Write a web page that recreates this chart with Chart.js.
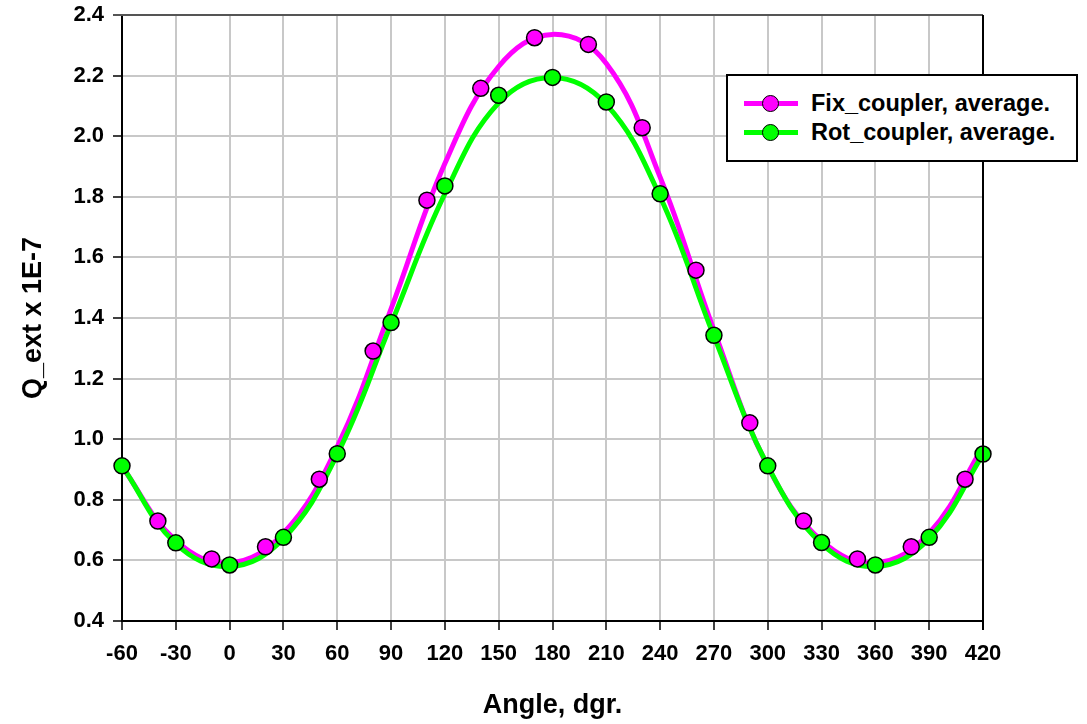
<!DOCTYPE html>
<html lang="en">
<head>
  <meta charset="UTF-8" />
  <title>Q_ext vs angle</title>
  <script src="https://cdn.jsdelivr.net/npm/chart.js"></script>
  <style>
    body { margin: 0; background: #fff; }
    .wrap { position: relative; width: 1087px; height: 724px; }
    .legend {
      position: absolute; left: 726px; top: 74px; width: 352px; height: 88px;
      border: 2px solid #000; background: #fff; box-sizing: border-box;
      font-family: "Liberation Sans", Arial, sans-serif; font-weight: bold; font-size: 23.5px;
    }
    .row { position: absolute; left: 0; height: 28px; line-height: 28px; }
    .row .ln { position: absolute; left: 16px; top: 12px; width: 54px; height: 5px; }
    .row .pt { position: absolute; left: 34px; top: 6px; width: 15px; height: 15px; border: 1.5px solid #000; border-radius: 50%; }
    .row .tx { position: absolute; left: 83px; top: 0; white-space: nowrap; color: #000; }
  </style>
</head>
<body>
<div class="wrap">
  <canvas id="chart" width="1087" height="724"></canvas>
  <div class="legend">
    <div class="row" style="top:13px"><div class="ln" style="background:#ff00ff"></div><div class="pt" style="background:#ff00ff"></div><div class="tx">Fix_coupler, average.</div></div>
    <div class="row" style="top:42px"><div class="ln" style="background:#00ff00"></div><div class="pt" style="background:#00ff00"></div><div class="tx">Rot_coupler, average.</div></div>
  </div>
</div>

<script>
  // measured points
  const fixAngles = [-40, -10, 20, 50, 80, 110, 140, 170, 200, 230, 260, 290, 320, 350, 380, 410];
  const fixValues = [0.730, 0.605, 0.645, 0.868, 1.291, 1.789, 2.158, 2.325, 2.303, 2.028, 1.558, 1.054, 0.730, 0.605, 0.645, 0.868];

  const rotAngles = [-60, -30, 0, 30, 60, 90, 120, 150, 180, 210, 240, 270, 300, 330, 360, 390, 420];
  const rotValues = [0.912, 0.658, 0.585, 0.676, 0.952, 1.385, 1.836, 2.135, 2.194, 2.113, 1.810, 1.343, 0.912, 0.659, 0.585, 0.676, 0.951];

  // fitted curves
  const curveAngles = [-60, -30, 0, 30, 60, 90, 120, 150, 180, 210, 240, 270, 300, 330, 360, 390, 420];
  const fixCurve = [0.910, 0.665, 0.592, 0.690, 0.975, 1.430, 1.910, 2.230, 2.336, 2.240, 1.865, 1.360, 0.910, 0.665, 0.592, 0.690, 0.975];
  const rotCurve = [0.912, 0.655, 0.580, 0.672, 0.950, 1.380, 1.810, 2.110, 2.194, 2.105, 1.800, 1.340, 0.912, 0.655, 0.580, 0.672, 0.950];

  const xTicks = [-60, -30, 0, 30, 60, 90, 120, 150, 180, 210, 240, 270, 300, 330, 360, 390, 420];

  const toXY = (xs, ys) => xs.map((x, i) => ({ x: x, y: ys[i] }));

  const frame = {
    id: 'frame',
    afterDraw(chart) {
      const { ctx, chartArea: a } = chart;
      ctx.save();
      ctx.strokeStyle = '#555';
      ctx.lineWidth = 2;
      ctx.beginPath();
      ctx.moveTo(a.left - 9, a.top);
      ctx.lineTo(a.right, a.top);
      ctx.stroke();
      ctx.strokeStyle = '#000';
      ctx.beginPath();
      ctx.moveTo(a.right, a.top);
      ctx.lineTo(a.right, a.bottom + 9);
      ctx.stroke();
      ctx.restore();
    }
  };

  const family = '"Liberation Sans", Arial, sans-serif';
  const tickFont = { family: family, weight: 'bold', size: 22 };
  const titleFont = { family: family, weight: 'bold', size: 27 };

  new Chart(document.getElementById('chart'), {
    type: 'scatter',
    data: {
      datasets: [
        {
          label: 'Fix curve', data: toXY(curveAngles, fixCurve), showLine: true,
          borderColor: '#ff00ff', borderWidth: 5, pointRadius: 0, tension: 0.4, order: 4
        },
        {
          label: 'Rot curve', data: toXY(curveAngles, rotCurve), showLine: true,
          borderColor: '#00ff00', borderWidth: 5, pointRadius: 0, tension: 0.4, order: 3
        },
        {
          label: 'Fix_coupler, average.', data: toXY(fixAngles, fixValues), showLine: false,
          pointRadius: 8, pointBackgroundColor: '#ff00ff', pointBorderColor: '#000', pointBorderWidth: 1.5, order: 2
        },
        {
          label: 'Rot_coupler, average.', data: toXY(rotAngles, rotValues), showLine: false,
          pointRadius: 8, pointBackgroundColor: '#00ff00', pointBorderColor: '#000', pointBorderWidth: 1.5, order: 1
        }
      ]
    },
    options: {
      responsive: false,
      animation: false,
      clip: false,
      layout: { padding: { top: 15, right: 104, left: 0, bottom: 0 } },
      plugins: { legend: { display: false }, tooltip: { enabled: false } },
      scales: {
        x: {
          type: 'linear', min: -60, max: 420,
          afterBuildTicks: s => { s.ticks = xTicks.map(v => ({ value: v })); },
          afterFit: s => { s.height = 103; s.paddingLeft = 0; s.paddingRight = 0; },
          grid: { color: '#c8c8c8', lineWidth: 2, tickColor: '#000', tickLength: 9, tickWidth: 1.5 },
          border: { color: '#000', width: 2 },
          ticks: { color: '#000', font: tickFont, padding: 11, maxRotation: 0, autoSkip: false },
          title: { display: true, text: 'Angle, dgr.', color: '#000', padding: { bottom: 2 }, font: titleFont }
        },
        y: {
          min: 0.4, max: 2.4,
          afterFit: s => { s.width = 122; s.paddingTop = 0; s.paddingBottom = 0; },
          grid: { color: '#c8c8c8', lineWidth: 2, tickColor: '#000', tickLength: 9, tickWidth: 1.5 },
          border: { color: '#000', width: 2 },
          ticks: { stepSize: 0.2, color: '#000', font: tickFont, padding: 9, callback: v => v.toFixed(1) },
          title: { display: true, text: 'Q_ext x 1E-7', color: '#000', padding: { top: 17 }, font: titleFont }
        }
      }
    },
    plugins: [frame]
  });
</script>
</body>
</html>
